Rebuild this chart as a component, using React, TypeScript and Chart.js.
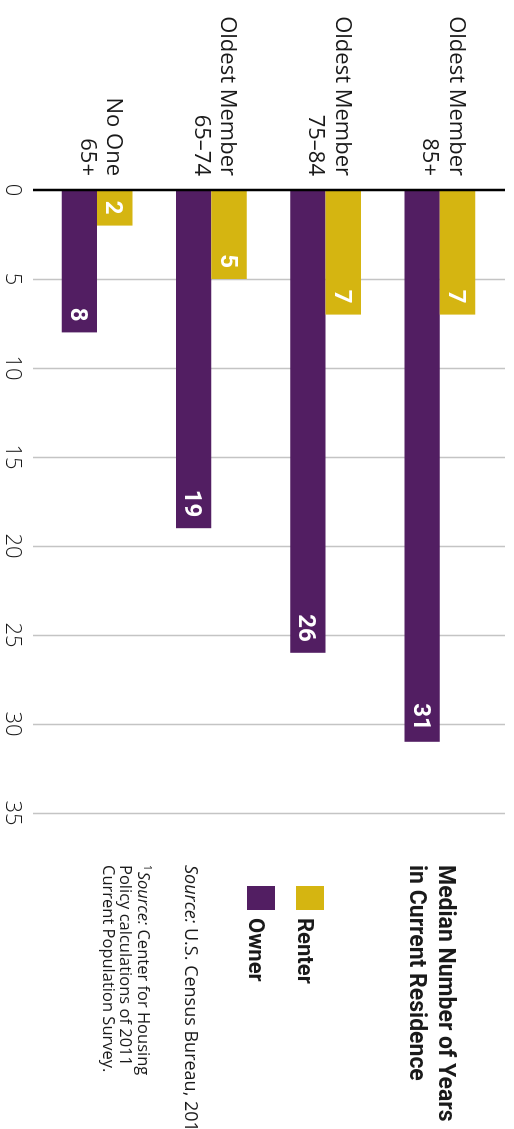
import React, { useEffect, useRef } from "react";
import { Chart, registerables } from "chart.js";
Chart.register(...registerables);

const categories: string[][] = [
  ["Oldest Member", "85+"],
  ["Oldest Member", "75–84"],
  ["Oldest Member", "65–74"],
  ["No One", "65+"],
];
const renterValues = [7, 7, 5, 2];
const ownerValues = [31, 26, 19, 8];
const seriesNames = ["Renter", "Owner"];
const valueTicks = [0, 5, 10, 15, 20, 25, 30, 35];
const titleLines = ["Median Number of Years", "in Current Residence"];
const sourceLabel = "Source:";
const sourceText = " U.S. Census Bureau, 2011¹";
const footnoteFirst = " Center for Housing";
const footnoteLines = ["Policy calculations of 2011", "Current Population Survey."];

const RENTER = "#D5B511";
const OWNER = "#521E62";
const TEXT = "#1a1a1a";

const gridPlugin = {
  id: "customGrid",
  beforeDatasetsDraw(chart: any) {
    const { ctx, chartArea } = chart;
    const xs = chart.scales.x;
    ctx.save();
    ctx.strokeStyle = "#c4c4c4";
    ctx.lineWidth = 1.5;
    for (const v of valueTicks) {
      if (v === 0) continue;
      const px = Math.round(xs.getPixelForValue(v)) + 0.5;
      ctx.beginPath();
      ctx.moveTo(px, chartArea.top - 8);
      ctx.lineTo(px, chartArea.bottom + 7);
      ctx.stroke();
    }
    ctx.restore();
  },
  afterDatasetsDraw(chart: any) {
    const { ctx, chartArea } = chart;
    const xs = chart.scales.x;
    const px = xs.getPixelForValue(0);
    ctx.save();
    ctx.strokeStyle = "#000";
    ctx.lineWidth = 2.5;
    ctx.beginPath();
    ctx.moveTo(px, chartArea.top - 8);
    ctx.lineTo(px, chartArea.bottom + 7);
    ctx.stroke();
    ctx.restore();
  },
};

const labelPlugin = {
  id: "barLabels",
  afterDatasetsDraw(chart: any) {
    const { ctx } = chart;
    ctx.save();
    ctx.fillStyle = "#fff";
    ctx.font = "700 24px Roboto";
    ctx.textAlign = "right";
    ctx.textBaseline = "alphabetic";
    chart.data.datasets.forEach((ds: any, i: number) => {
      const meta = chart.getDatasetMeta(i);
      meta.data.forEach((bar: any, j: number) => {
        ctx.fillText(String(ds.data[j]), bar.x - 11, bar.y + 8.5);
      });
    });
    ctx.restore();
  },
};

const textPlugin = {
  id: "sideTexts",
  afterDraw(chart: any) {
    const { ctx, chartArea } = chart;
    const lx = chartArea.right + 52;
    ctx.save();
    ctx.textAlign = "left";
    ctx.textBaseline = "alphabetic";
    ctx.fillStyle = TEXT;
    ctx.font = "700 23px Roboto";
    ctx.fillText(titleLines[0], lx, 75);
    ctx.fillText(titleLines[1], lx, 104);

    const colors = [RENTER, OWNER];
    const boxTops = [190, 239];
    const baselines = [216, 265];
    seriesNames.forEach((name, i) => {
      ctx.fillStyle = colors[i];
      ctx.fillRect(lx + 21, boxTops[i], 24, 28);
      ctx.fillStyle = TEXT;
      ctx.font = "700 22px Roboto";
      ctx.fillText(name, lx + 53, baselines[i]);
    });

    ctx.font = "italic 18px 'Open Sans'";
    ctx.fillText(sourceLabel, lx, 329);
    let w = ctx.measureText(sourceLabel).width;
    ctx.font = "18px 'Open Sans'";
    ctx.fillText(sourceText, lx + w, 329);

    ctx.font = "10px 'Open Sans'";
    ctx.fillText("1", lx, 370);
    const sw = ctx.measureText("1").width + 1;
    ctx.font = "italic 16.5px 'Open Sans'";
    ctx.fillText(sourceLabel, lx + sw, 376);
    w = ctx.measureText(sourceLabel).width;
    ctx.font = "16.5px 'Open Sans'";
    ctx.fillText(footnoteFirst, lx + sw + w, 376);
    ctx.fillText(footnoteLines[0], lx, 393.5);
    ctx.fillText(footnoteLines[1], lx, 411);
    ctx.restore();
  },
};

export default function App() {
  const ref = useRef<HTMLCanvasElement>(null);
  useEffect(() => {
    const canvas = ref.current!;
    const chart = new Chart(canvas, {
      type: "bar",
      data: {
        labels: categories,
        datasets: [
          {
            label: seriesNames[0],
            data: renterValues,
            backgroundColor: RENTER,
            borderWidth: 0,
            categoryPercentage: 0.62,
            barPercentage: 1,
          },
          {
            label: seriesNames[1],
            data: ownerValues,
            backgroundColor: OWNER,
            borderWidth: 0,
            categoryPercentage: 0.62,
            barPercentage: 1,
          },
        ],
      },
      options: {
        indexAxis: "y",
        responsive: false,
        animation: false,
        devicePixelRatio: 1,
        layout: { padding: { top: 17, right: 316, bottom: 0, left: 0 } },
        plugins: {
          legend: { display: false },
          tooltip: { enabled: false },
          title: { display: false },
        },
        scales: {
          x: {
            type: "linear",
            position: "bottom",
            min: 0,
            max: 35,
            grid: { display: false, drawTicks: false },
            border: { display: false },
            ticks: {
              stepSize: 5,
              autoSkip: false,
              padding: 15,
              color: TEXT,
              font: { family: "'Open Sans'", size: 22, weight: "300" },
            },
            afterFit: (s: any) => {
              s.height = 40;
              s.paddingLeft = 0;
              s.paddingRight = 0;
            },
          },
          y: {
            type: "category",
            position: "left",
            grid: { display: false, drawTicks: false },
            border: { display: false },
            ticks: {
              autoSkip: false,
              padding: 14,
              labelOffset: -3,
              color: TEXT,
              font: { family: "'Open Sans'", size: 22, lineHeight: 1.2 },
            },
            afterFit: (s: any) => {
              s.width = 190;
              s.paddingTop = 0;
              s.paddingBottom = 0;
            },
          },
        },
      } as any,
      plugins: [gridPlugin, labelPlugin, textPlugin],
    });
    return () => chart.destroy();
  }, []);
  return (
    <div
      style={{
        position: "absolute",
        left: 0,
        top: 0,
        width: 514,
        height: 1129,
        overflow: "hidden",
        background: "#fff",
      }}
    >
      <div
        style={{
          position: "absolute",
          left: 0,
          top: 0,
          width: 1129,
          height: 514,
          transform: "translateX(514px) rotate(90deg)",
          transformOrigin: "0 0",
        }}
      >
        <canvas
          ref={ref}
          width={1129}
          height={514}
          style={{ display: "block", width: 1129, height: 514 }}
        />
      </div>
    </div>
  );
}
